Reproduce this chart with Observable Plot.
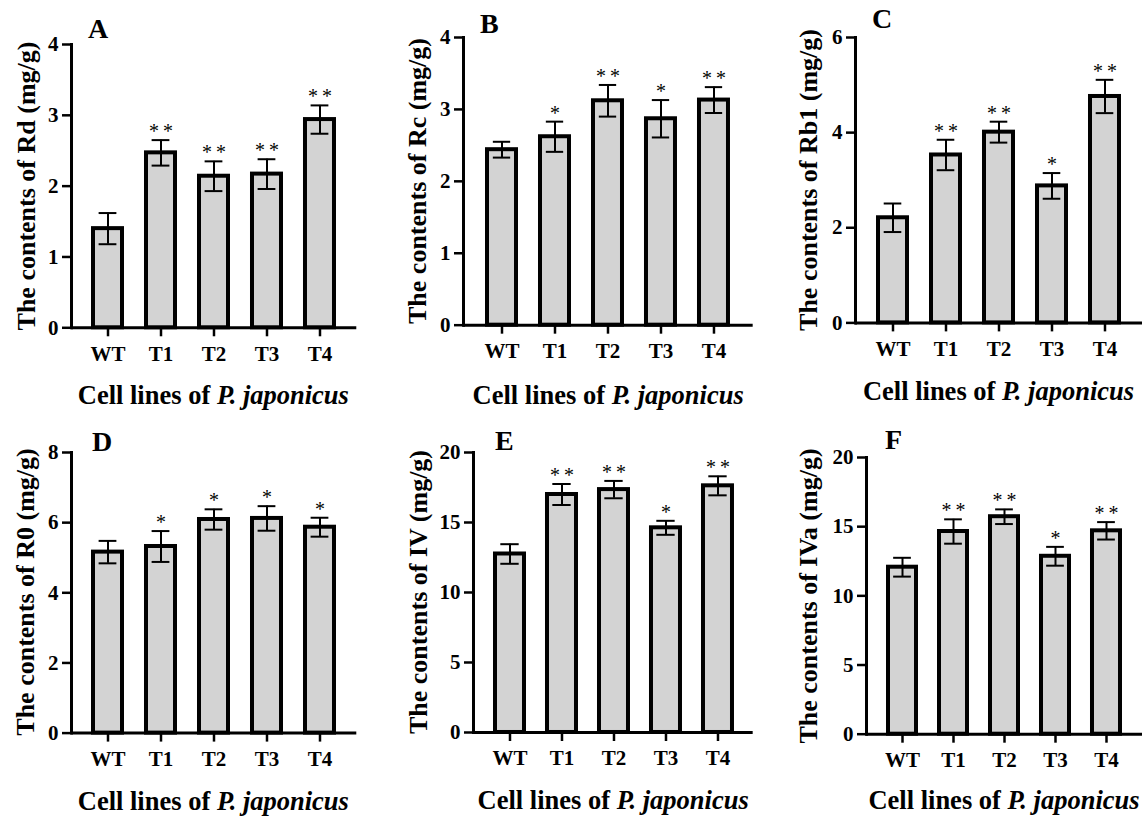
<!DOCTYPE html>
<html><head><meta charset="utf-8">
<script src="https://cdn.jsdelivr.net/npm/d3@7"></script>
<script src="https://cdn.jsdelivr.net/npm/@observablehq/plot@0.6"></script>
<style>
body{margin:0;background:#fff;}
#fig{position:relative;width:1142px;height:816px;overflow:hidden;font-family:"Liberation Serif","Times New Roman",serif;}
.abs{position:absolute;white-space:nowrap;line-height:1;font-weight:bold;color:#000;}
svg{overflow:visible;}
</style></head><body><div id="fig"></div>
<script>
// ---- data ----
const lines = ["WT", "T1", "T2", "T3", "T4"];

const rdMean = [1.40, 2.47, 2.14, 2.17, 2.94];
const rdSd   = [0.22, 0.18, 0.21, 0.21, 0.20];
const rdSig  = ["", "**", "**", "**", "**"];

const rcMean = [2.44, 2.62, 3.12, 2.87, 3.13];
const rcSd   = [0.11, 0.21, 0.22, 0.26, 0.18];
const rcSig  = ["", "*", "**", "*", "**"];

const rb1Mean = [2.21, 3.53, 4.01, 2.88, 4.76];
const rb1Sd   = [0.30, 0.32, 0.22, 0.27, 0.35];
const rb1Sig  = ["", "**", "**", "*", "**"];

const r0Mean = [5.16, 5.32, 6.09, 6.12, 5.87];
const r0Sd   = [0.32, 0.44, 0.29, 0.35, 0.27];
const r0Sig  = ["", "*", "*", "*", "*"];

const ivMean = [12.75, 17.00, 17.35, 14.62, 17.62];
const ivSd   = [0.70, 0.75, 0.62, 0.50, 0.68];
const ivSig  = ["", "**", "**", "*", "**"];

const ivaMean = [12.07, 14.65, 15.72, 12.86, 14.70];
const ivaSd   = [0.68, 0.88, 0.53, 0.68, 0.63];
const ivaSig  = ["", "**", "**", "*", "**"];

const xTitle = "Cell lines of ";
const xTitleItalic = "P. japonicus";

// ---- layout per panel ----
const panels = [
  {letter:"A", ylabel:"The contents of Rd (mg/g)", mean:rdMean, sd:rdSd, sig:rdSig, yMax:4, ticks:[0,1,2,3,4],
   axisX:70.7, top:44, bottom:327.3, right:356, letterX:88, letterY:20, titleY:387, ylabX:27},
  {letter:"B", ylabel:"The contents of Rc (mg/g)", mean:rcMean, sd:rcSd, sig:rcSig, yMax:4, ticks:[0,1,2,3,4],
   axisX:463.3, top:37.3, bottom:325, right:753, letterX:480, letterY:15, titleY:387, ylabX:418},
  {letter:"C", ylabel:"The contents of Rb1 (mg/g)", mean:rb1Mean, sd:rb1Sd, sig:rb1Sig, yMax:6, ticks:[0,2,4,6],
   axisX:855, top:37.3, bottom:322.7, right:1142, letterX:872, letterY:10, titleY:383, ylabX:809},
  {letter:"D", ylabel:"The contents of R0 (mg/g)", mean:r0Mean, sd:r0Sd, sig:r0Sig, yMax:8, ticks:[0,2,4,6,8],
   axisX:70.7, top:451.7, bottom:732.3, right:356, letterX:92, letterY:433, titleY:793, ylabX:26},
  {letter:"E", ylabel:"The contents of IV (mg/g)", mean:ivMean, sd:ivSd, sig:ivSig, yMax:20, ticks:[0,5,10,15,20],
   axisX:473.3, top:452.3, bottom:732.3, right:753, letterX:495, letterY:432, titleY:792, ylabX:418.5},
  {letter:"F", ylabel:"The contents of IVa (mg/g)", mean:ivaMean, sd:ivaSd, sig:ivaSig, yMax:20, ticks:[0,5,10,15,20],
   axisX:866, top:457.3, bottom:734, right:1142, letterX:885, letterY:431, titleY:792, ylabX:809}
];

const fig = document.getElementById("fig");
const ML = 60, MT = 20, MB = 50;
const PI = 0.45, PO = 0.41;
const FONT = '"Liberation Serif", "Times New Roman", serif';

function addDiv(html, css) {
  const d = document.createElement("div");
  d.className = "abs";
  d.innerHTML = html;
  Object.assign(d.style, css);
  fig.appendChild(d);
  return d;
}

for (const p of panels) {
  const W = p.right - p.axisX;
  const H = p.bottom - p.top;
  const step = W / (lines.length - PI + 2 * PO);
  const bw = step * (1 - PI);
  const capInset = Math.max(0, (bw - 18) / 2);
  const rows = lines.map((c, i) => ({line: c, mean: p.mean[i], sd: p.sd[i], sig: p.sig[i]}));

  const chart = Plot.plot({
    width: ML + W,
    height: MT + H + MB,
    marginLeft: ML, marginRight: 0, marginTop: MT, marginBottom: MB,
    style: {fontFamily: FONT, fontSize: "20px", fontWeight: "bold", color: "#000", background: "transparent", overflow: "visible"},
    x: {domain: lines, paddingInner: PI, paddingOuter: PO, label: null},
    y: {domain: [0, p.yMax], label: null},
    marks: [
      Plot.barY(rows, {x: "line", y: "mean", fill: "#d3d3d3", stroke: "#000", strokeWidth: 4}),
      Plot.ruleX(rows, {x: "line", y1: d => d.mean - d.sd, y2: d => d.mean + d.sd, stroke: "#000", strokeWidth: 2}),
      Plot.tickY(rows, {x: "line", y: d => d.mean + d.sd, inset: capInset, stroke: "#000", strokeWidth: 2}),
      Plot.tickY(rows, {x: "line", y: d => d.mean - d.sd, inset: capInset, stroke: "#000", strokeWidth: 2}),
      Plot.text(rows.filter(d => d.sig), {x: "line", y: d => d.mean + d.sd, text: d => d.sig.split("").join("\u2009"),
        lineAnchor: "bottom", dy: -2, fontSize: 20, fontWeight: "normal", fill: "#000"}),
      Plot.frame({anchor: "left", stroke: "#000", strokeWidth: 3}),
      Plot.ruleY([0], {stroke: "#000", strokeWidth: 3}),
      Plot.axisY({ticks: p.ticks, tickFormat: d => String(d), tickSize: 9, tickPadding: 4, strokeWidth: 2.5, fontSize: 21, label: null}),
      Plot.axisX({tickSize: 9, tickPadding: 9, strokeWidth: 2.5, fontSize: 21, label: null})
    ]
  });
  chart.style.position = "absolute";
  chart.style.left = (p.axisX - ML) + "px";
  chart.style.top = (p.top - MT) + "px";
  chart.style.maxWidth = "none";
  fig.appendChild(chart);

  // panel letter
  addDiv(p.letter, {left: p.letterX + "px", top: (p.letterY - 5) + "px", fontSize: "28px"});
  // y label
  addDiv(p.ylabel, {left: p.ylabX + "px", top: ((p.top + p.bottom) / 2) + "px", fontSize: "26px",
    transform: "translate(-50%, -50%) rotate(-90deg)"});
  // x title
  addDiv(xTitle + "<i>" + xTitleItalic + "</i>", {left: ((p.axisX + p.right) / 2) + "px", top: (p.titleY - 4.6) + "px",
    fontSize: "26.5px", transform: "translateX(-50%)"});
}
</script>
</body></html>
